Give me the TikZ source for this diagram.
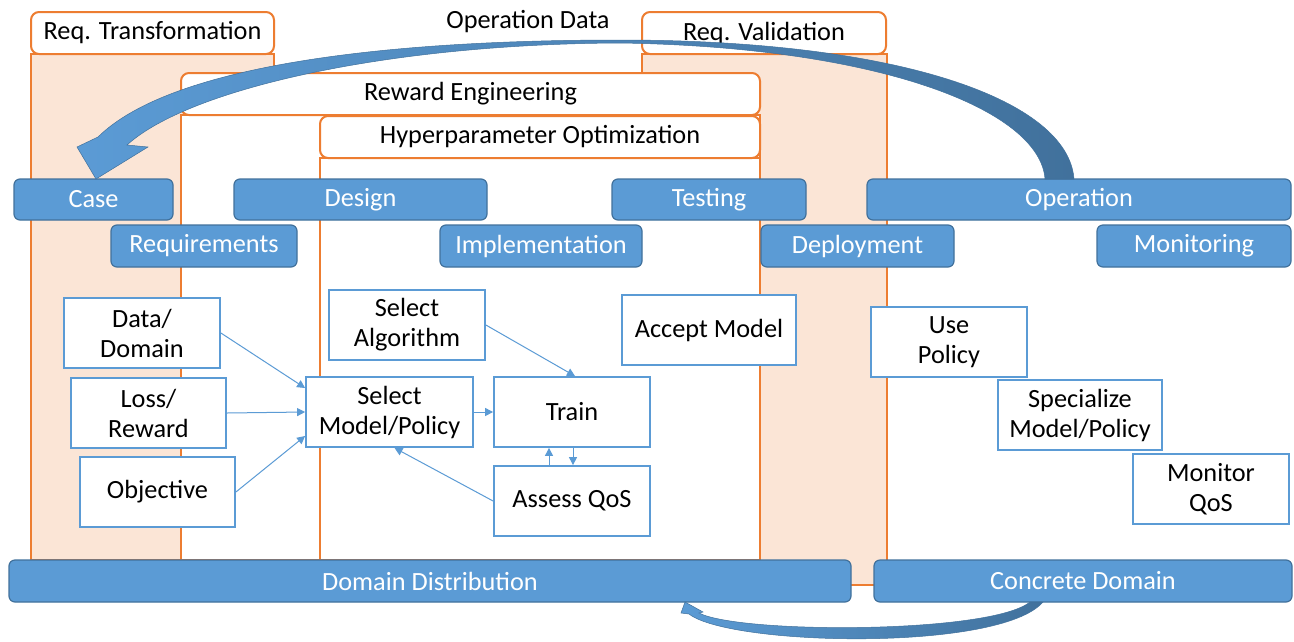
\documentclass[tikz,border=0pt]{standalone}
\usepackage{fontspec}
\setmainfont{Carlito}
\usetikzlibrary{arrows.meta,calc}
\definecolor{orng}{HTML}{ED7D31}
\definecolor{peach}{HTML}{FBE5D6}
\definecolor{bluefill}{HTML}{5B9BD5}
\definecolor{blueedge}{HTML}{41719C}
\definecolor{arrowdark}{HTML}{41719C}
\begin{document}
\begin{tikzpicture}[x=1pt,y=-1pt,
  every node/.style={font=\fontsize{26.3}{30}\selectfont, inner sep=0pt, align=center},
  bar/.style={draw=blueedge, line width=1.2pt, fill=bluefill, rounded corners=6pt, text=white},
  header/.style={draw=orng, line width=2pt, fill=white, rounded corners=8pt},
  region/.style={draw=orng, line width=2pt},
  stepbox/.style={draw=bluefill, line width=1.8pt, fill=white, minimum height=70},
  flow/.style={draw=bluefill, line width=1pt, -{Triangle[length=8pt,width=8pt]}},
  bigarrow/.style={left color=bluefill, right color=arrowdark, draw=arrowdark, line width=0.5pt}]

\path[use as bounding box, fill=white] (0,0) rectangle (1294,641);

% activity columns and nested regions
\node[region, fill=peach, minimum width=243, minimum height=506] (transcol) at (152.5,307) {};
\node[region, fill=peach, minimum width=245, minimum height=531] (valcol) at (764.5,319.5) {};
\node[region, fill=white, minimum width=579, minimum height=445] (rewardreg) at (470.5,337.5) {};
\node[region, fill=white, minimum width=440, minimum height=402] (hyperreg) at (540,359) {};

% region headers
\node[header, minimum width=243, minimum height=42] (reqtrans) at (152.5,33) {Req. Transformation};
\node[header, minimum width=244, minimum height=42] (reqval) at (764,33) {Req. Validation};
\node[header, minimum width=579, minimum height=42] (reward) at (470.5,94) {Reward Engineering};
\node[header, minimum width=440, minimum height=42] (hyper) at (540,137) {Hyperparameter Optimization};

% lifecycle phases
\node[bar, minimum width=159, minimum height=41] (case) at (93.5,199.5) {Case};
\node[bar, minimum width=253, minimum height=41] (design) at (360.5,199.5) {Design};
\node[bar, minimum width=194, minimum height=41] (testing) at (709,199.5) {Testing};
\node[bar, minimum width=424, minimum height=41] (operation) at (1079,199.5) {Operation};
\node[bar, minimum width=186, minimum height=42] (requirements) at (204,246) {Requirements};
\node[bar, minimum width=202, minimum height=42] (implementation) at (541,246) {Implementation};
\node[bar, minimum width=193, minimum height=42] (deployment) at (857.5,246) {Deployment};
\node[bar, minimum width=194, minimum height=42] (monitoring) at (1194,246) {Monitoring};
\node[bar, minimum width=842, minimum height=42] (domdist) at (430,581) {Domain Distribution};
\node[bar, minimum width=418, minimum height=42] (concrete) at (1083,581) {Concrete Domain};

% activities
\node[stepbox, minimum width=156] (data) at (142,333) {Data/\\Domain};
\node[stepbox, minimum width=155] (loss) at (148.5,413) {Loss/\\Reward};
\node[stepbox, minimum width=155] (objective) at (157.5,492) {Objective};
\node[stepbox, minimum width=167] (selmodel) at (389.5,412) {Select\\Model/Policy};
\node[stepbox, minimum width=156] (selalg) at (407,325) {Select\\Algorithm};
\node[stepbox, minimum width=156] (train) at (572,412) {Train};
\node[stepbox, minimum width=156] (assess) at (572,501) {Assess QoS};
\node[stepbox, minimum width=174] (accept) at (709,330) {Accept Model};
\node[stepbox, minimum width=156] (use) at (949,342) {Use\\Policy};
\node[stepbox, minimum width=164] (special) at (1080,415) {Specialize\\Model/Policy};
\node[stepbox, minimum width=156] (monitor) at (1211,489) {Monitor\\QoS};

% activity flow
\draw[flow] (data.east) -- ([yshift=24pt]selmodel.west);
\draw[flow] (loss.east) -- (selmodel.west);
\draw[flow] (objective.east) -- ([yshift=-24pt]selmodel.west);
\draw[flow] (selmodel.east) -- (train.west);
\draw[flow] (selalg.east) -- ([xshift=3pt]train.north);
\draw[flow] ([xshift=-23pt]assess.north) -- ([xshift=-23pt]train.south);
\draw[flow] ([xshift=1pt]train.south) -- ([xshift=1pt]assess.north);
\draw[flow] (assess.west) -- ([xshift=5pt]selmodel.south);

% operation data fed back to the case
\node (opdata) at (528,22) {Operation Data};
\shade[bigarrow]
  (1074,179) .. controls (1068,100) and (900,40) .. (620,40)
  .. controls (380,40) and (170,66) .. (98,137)
  -- (77,147) -- (96,179) -- (148,147) -- (127,145)
  .. controls (190,88) and (390,44) .. (620,43)
  .. controls (880,47) and (1040,110) .. (1045,179) -- cycle;

% concrete domain feeding the domain distribution
\shade[bigarrow]
  (1043,602) .. controls (1000,652) and (730,646) .. (689,614)
  -- (681,613) -- (685,602) -- (703,612) -- (699,613)
  .. controls (740,634) and (990,634) .. (1030,602) -- cycle;
\end{tikzpicture}
\end{document}
